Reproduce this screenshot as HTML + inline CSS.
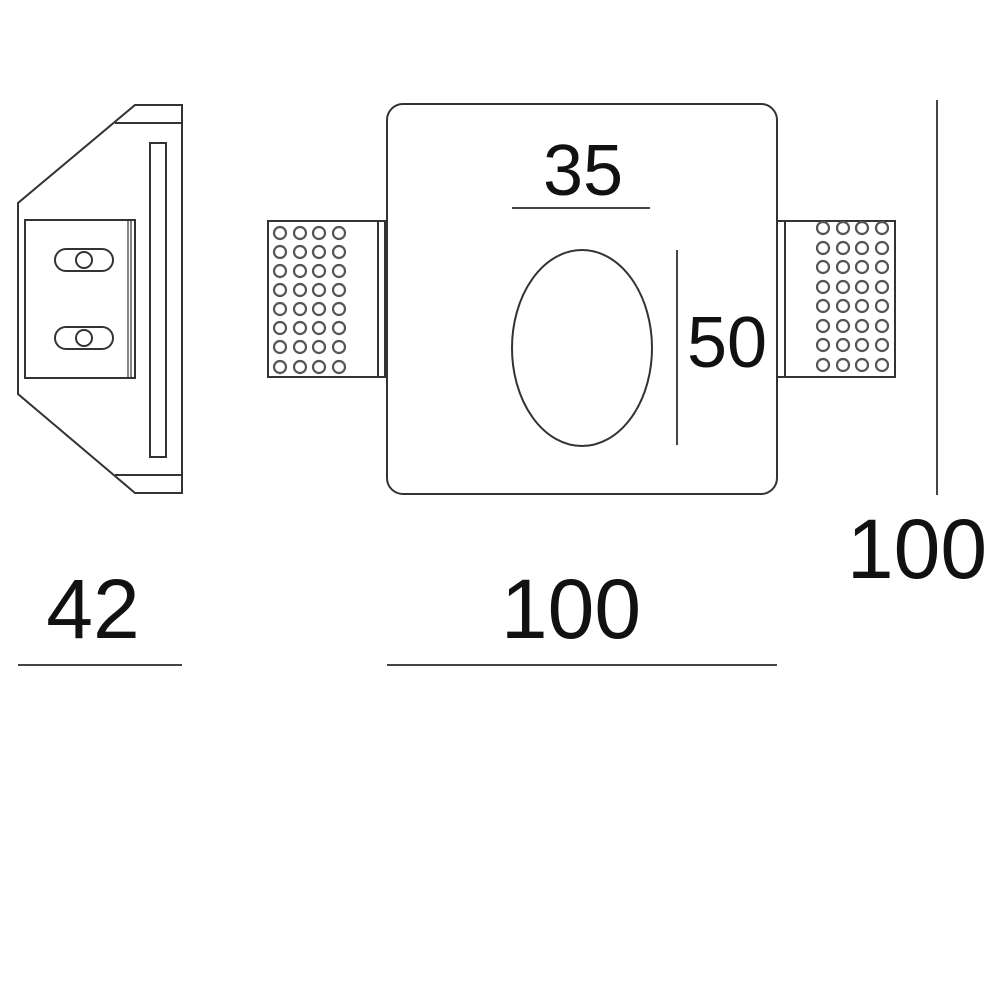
<!DOCTYPE html>
<html><head><style>
body{margin:0;background:#fff;}
svg{display:block}
text{font-family:"Liberation Sans",sans-serif;fill:#111}
</style></head><body>
<svg width="1000" height="1000" viewBox="0 0 1000 1000">
<g fill="none" stroke="#333" stroke-width="2">
<!-- side view -->
<path d="M135,105 L182,105 L182,493 L135,493 L18,394 L18,203 Z"/>
<path d="M115,123 L182,123 M115,475 L182,475"/>
<rect x="150" y="143" width="16" height="314"/>
<rect x="25" y="220" width="110" height="158"/>
<path d="M128,220 V378 M131,220 V378" stroke-width="1.2"/>
<rect x="55" y="249" width="58" height="22" rx="11"/>
<circle cx="84" cy="260" r="8"/>
<rect x="55" y="327" width="58" height="22" rx="11"/>
<circle cx="84" cy="338" r="8"/>
<!-- lugs -->
<rect x="268" y="221" width="117" height="156"/>
<path d="M378,221 V377"/>
<rect x="777" y="221" width="118" height="156"/>
<path d="M785,221 V377"/>
<!-- main -->
<rect x="387" y="104" width="390" height="390" rx="16" fill="#fff"/>
<ellipse cx="582" cy="348" rx="70" ry="98"/>
<path d="M512,208 H650 M677,250 V445 M937,100 V495 M18,665 H182 M387,665 H777" stroke="#444"/>
</g>
<g fill="none" stroke="#555" stroke-width="2.2" id="dots">
<script>
</script>
</g>
<g fill="none" stroke="#555" stroke-width="2.2">
<circle cx="280" cy="233" r="6"/><circle cx="300" cy="233" r="6"/><circle cx="319" cy="233" r="6"/><circle cx="339" cy="233" r="6"/>
<circle cx="280" cy="252" r="6"/><circle cx="300" cy="252" r="6"/><circle cx="319" cy="252" r="6"/><circle cx="339" cy="252" r="6"/>
<circle cx="280" cy="271" r="6"/><circle cx="300" cy="271" r="6"/><circle cx="319" cy="271" r="6"/><circle cx="339" cy="271" r="6"/>
<circle cx="280" cy="290" r="6"/><circle cx="300" cy="290" r="6"/><circle cx="319" cy="290" r="6"/><circle cx="339" cy="290" r="6"/>
<circle cx="280" cy="309" r="6"/><circle cx="300" cy="309" r="6"/><circle cx="319" cy="309" r="6"/><circle cx="339" cy="309" r="6"/>
<circle cx="280" cy="328" r="6"/><circle cx="300" cy="328" r="6"/><circle cx="319" cy="328" r="6"/><circle cx="339" cy="328" r="6"/>
<circle cx="280" cy="347" r="6"/><circle cx="300" cy="347" r="6"/><circle cx="319" cy="347" r="6"/><circle cx="339" cy="347" r="6"/>
<circle cx="280" cy="367" r="6"/><circle cx="300" cy="367" r="6"/><circle cx="319" cy="367" r="6"/><circle cx="339" cy="367" r="6"/>
<circle cx="823" cy="228" r="6"/><circle cx="843" cy="228" r="6"/><circle cx="862" cy="228" r="6"/><circle cx="882" cy="228" r="6"/>
<circle cx="823" cy="248" r="6"/><circle cx="843" cy="248" r="6"/><circle cx="862" cy="248" r="6"/><circle cx="882" cy="248" r="6"/>
<circle cx="823" cy="267" r="6"/><circle cx="843" cy="267" r="6"/><circle cx="862" cy="267" r="6"/><circle cx="882" cy="267" r="6"/>
<circle cx="823" cy="287" r="6"/><circle cx="843" cy="287" r="6"/><circle cx="862" cy="287" r="6"/><circle cx="882" cy="287" r="6"/>
<circle cx="823" cy="306" r="6"/><circle cx="843" cy="306" r="6"/><circle cx="862" cy="306" r="6"/><circle cx="882" cy="306" r="6"/>
<circle cx="823" cy="326" r="6"/><circle cx="843" cy="326" r="6"/><circle cx="862" cy="326" r="6"/><circle cx="882" cy="326" r="6"/>
<circle cx="823" cy="345" r="6"/><circle cx="843" cy="345" r="6"/><circle cx="862" cy="345" r="6"/><circle cx="882" cy="345" r="6"/>
<circle cx="823" cy="365" r="6"/><circle cx="843" cy="365" r="6"/><circle cx="862" cy="365" r="6"/><circle cx="882" cy="365" r="6"/>
</g>
<text x="583" y="195" font-size="72" text-anchor="middle">35</text>
<text x="727" y="367" font-size="72" text-anchor="middle">50</text>
<text x="917" y="578" font-size="84" text-anchor="middle">100</text>
<text x="93" y="638" font-size="84" text-anchor="middle">42</text>
<text x="571" y="638" font-size="84" text-anchor="middle">100</text>
</svg>
</body></html>
